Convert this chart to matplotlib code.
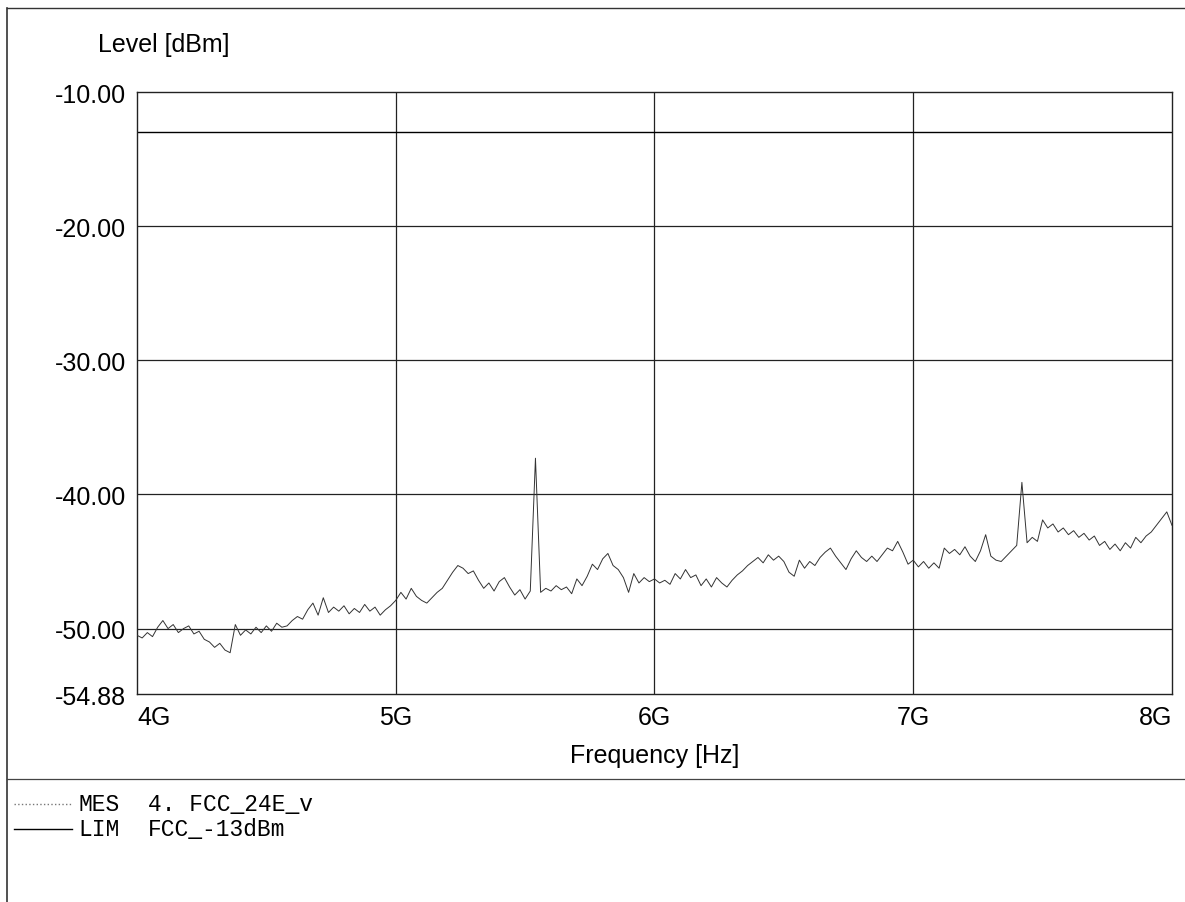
import numpy as np
import matplotlib
matplotlib.use("Agg")
import matplotlib.pyplot as plt
from matplotlib.lines import Line2D

plt.rcParams.update({
    "font.family": ["Liberation Sans", "DejaVu Sans"],
    "figure.facecolor": "white",
    "axes.facecolor": "white",
})

# sweep 4 GHz .. 8 GHz, one reading every 20 MHz
f_start_ghz = 4.0
f_stop_ghz = 8.0
n_points = 201

# MES trace, dBm
mes_level = [
    -50.5, -50.7, -50.3, -50.6, -49.9, -49.4, -50.0, -49.7, -50.3, -50.0,
    -49.8, -50.4, -50.2, -50.8, -51.0, -51.4, -51.1, -51.6, -51.8, -49.7,
    -50.5, -50.1, -50.4, -49.9, -50.3, -49.8, -50.2, -49.6, -49.9, -49.8,
    -49.4, -49.1, -49.3, -48.6, -48.1, -49.0, -47.7, -48.8, -48.4, -48.7,
    -48.3, -48.9, -48.5, -48.8, -48.2, -48.7, -48.4, -49.0, -48.6, -48.3,
    -47.9, -47.3, -47.8, -47.0, -47.6, -47.9, -48.1, -47.7, -47.3, -47.0,
    -46.4, -45.8, -45.3, -45.5, -45.9, -45.7, -46.4, -47.0, -46.6, -47.2,
    -46.5, -46.2, -46.9, -47.5, -47.1, -47.8, -47.2, -37.3, -47.3, -47.0,
    -47.2, -46.8, -47.1, -46.9, -47.4, -46.3, -46.8, -46.1, -45.2, -45.6,
    -44.8, -44.4, -45.3, -45.6, -46.2, -47.3, -45.9, -46.6, -46.2, -46.5,
    -46.3, -46.6, -46.4, -46.7, -45.9, -46.3, -45.6, -46.2, -46.0, -46.8,
    -46.3, -46.9, -46.2, -46.6, -46.9, -46.4, -46.0, -45.7, -45.3, -45.0,
    -44.7, -45.1, -44.5, -44.9, -44.6, -45.0, -45.8, -46.1, -44.9, -45.5,
    -45.0, -45.3, -44.7, -44.3, -44.0, -44.6, -45.1, -45.6, -44.8, -44.2,
    -44.7, -45.0, -44.6, -45.0, -44.5, -44.0, -44.2, -43.5, -44.3, -45.2,
    -44.9, -45.4, -45.0, -45.5, -45.1, -45.5, -44.0, -44.4, -44.1, -44.5,
    -43.9, -44.6, -45.0, -44.2, -43.0, -44.6, -44.9, -45.0, -44.6, -44.2,
    -43.8, -39.1, -43.6, -43.2, -43.5, -41.9, -42.5, -42.2, -42.8, -42.5,
    -43.0, -42.7, -43.2, -42.9, -43.4, -43.1, -43.8, -43.5, -44.1, -43.7,
    -44.2, -43.6, -44.0, -43.2, -43.6, -43.1, -42.8, -42.3, -41.8, -41.3,
    -42.3,
]

# LIM line
lim_level = -13.0

y_ticks = [-10.0, -20.0, -30.0, -40.0, -50.0, -54.88]
x_ticks = [4, 5, 6, 7, 8]
x_labels = ["4G", "5G", "6G", "7G", "8G"]

freq = np.linspace(f_start_ghz, f_stop_ghz, n_points)

fig = plt.figure(figsize=(11.85, 9.03), dpi=100)
ax = fig.add_axes([0.1156, 0.2303, 0.8734, 0.6667])

# grid (only inner lines)
for yv in y_ticks[1:-1]:
    ax.axhline(yv, color="#222222", lw=0.9, zorder=1)
for xv in x_ticks[1:-1]:
    ax.axvline(xv, color="#222222", lw=0.9, zorder=1)

ax.plot(freq, mes_level, color="#333333", lw=0.7, zorder=3)
ax.axhline(lim_level, color="black", lw=1.0, zorder=2)

ax.set_xlim(f_start_ghz, f_stop_ghz)
ax.set_ylim(y_ticks[-1], y_ticks[0])
ax.set_yticks(y_ticks)
ax.set_yticklabels([f"{v:.2f}" for v in y_ticks], fontsize=18)
ax.set_xticks(x_ticks)
ax.set_xticklabels(x_labels, fontsize=18)
ax.tick_params(length=0, pad=8)
labels = ax.get_xticklabels()
labels[0].set_ha("left")
labels[-1].set_ha("right")

for s in ax.spines.values():
    s.set_color("#222222")
    s.set_linewidth(1.0)

ax.set_xlabel("Frequency [Hz]", fontsize=18, labelpad=10)
fig.text(98 / 1185, 1 - 45 / 903, "Level [dBm]", fontsize=18, va="center", ha="left")

# outer frame + separator of the legend block
fig.add_artist(Line2D([7 / 1185, 7 / 1185], [0, 1 - 9 / 903], color="#333333", lw=1.2))
fig.add_artist(Line2D([7 / 1185, 1], [1 - 9 / 903, 1 - 9 / 903], color="#333333", lw=1.0))
fig.add_artist(Line2D([7 / 1185, 1], [1 - 780 / 903, 1 - 780 / 903], color="#444444", lw=0.9))

# legend block
mono = ["Liberation Mono", "DejaVu Sans Mono"]
rows = [("MES", "4. FCC_24E_v", ":", "#777777", 805),
        ("LIM", "FCC_-13dBm", "-", "black", 830)]
for tag, name, ls, col, ypx in rows:
    yy = 1 - ypx / 903
    fig.add_artist(Line2D([14 / 1185, 72 / 1185], [yy, yy], color=col, lw=1.0, ls=ls))
    fig.text(78 / 1185, yy, tag, family=mono, fontsize=16.5, va="center")
    fig.text(148 / 1185, yy, name, family=mono, fontsize=16.5, va="center")

plt.savefig("out.png", dpi=100)
